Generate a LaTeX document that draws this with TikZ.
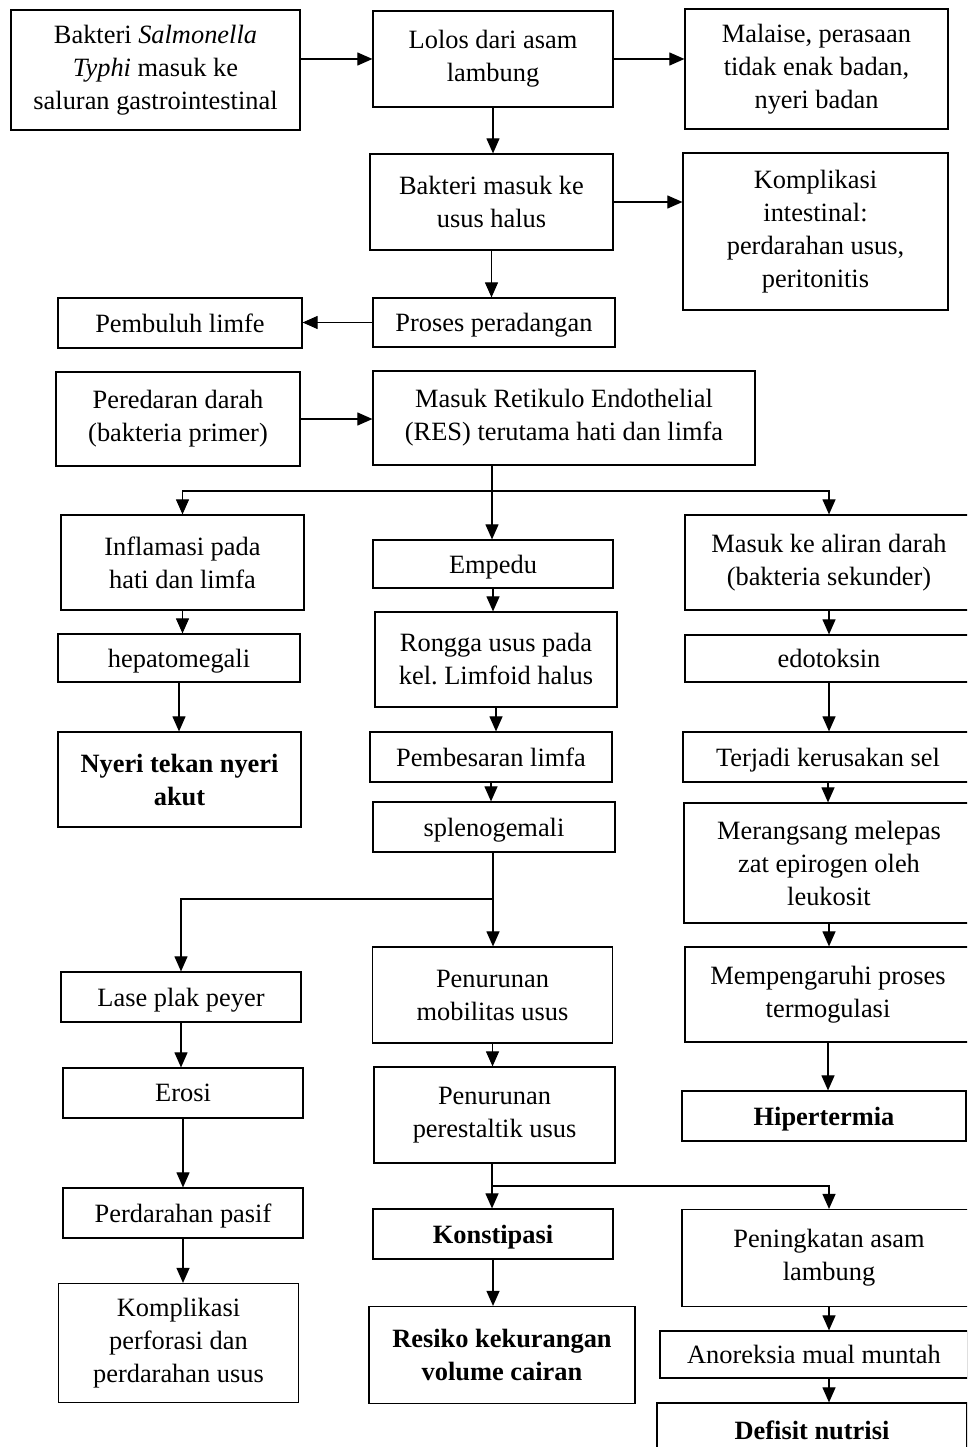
\documentclass[tikz,border=0pt]{standalone}
\usepackage{fontspec}
\setmainfont{Liberation Serif}
\usepackage{tikz}
\usetikzlibrary{arrows.meta,calc,positioning}
\frenchspacing

\begin{document}
\begin{tikzpicture}[
  x=1pt,y=-1pt,
  box/.style={draw,line width=1.2pt,inner sep=0pt,align=center,font=\fontsize{26.4}{33}\selectfont},
  one/.style={text depth=0pt},
  bold/.style={font=\fontsize{26.4}{33}\selectfont\bfseries},
  sz/.style 2 args={minimum width=#1pt,minimum height=#2pt},
  arrow/.style={-{Triangle[length=15pt,width=13pt]},line width=1.1pt}
]
\useasboundingbox (0,0) rectangle (967,1447);
\clip (0,0) rectangle (967,1447);
\node[box,sz={289}{120}] (bact) at (155.5,70) {Bakteri \textit{Salmonella}\\\textit{Typhi} masuk ke\\saluran gastrointestinal};
\node[box,sz={240}{96}] (lolos) at (493,59) {Lolos dari asam\\lambung};
\node[box,sz={263}{120}] (malaise) at (816.5,69) {Malaise, perasaan\\tidak enak badan,\\nyeri badan};
\node[box,sz={243}{96}] (masuk) at (491.5,202) {Bakteri masuk ke\\usus halus};
\node[box,sz={265}{157}] (kompint) at (815.5,231.5) {Komplikasi\\intestinal:\\perdarahan usus,\\peritonitis};
\node[box,one,sz={244}{50}] (limfe) at (180,323) {Pembuluh limfe};
\node[box,one,sz={242}{49}] (proses) at (494,322.5) {Proses peradangan};
\node[box,sz={244}{94}] (peredaran) at (178,419) {Peredaran darah\\(bakteria primer)};
\node[box,sz={382}{94}] (res) at (564,418) {Masuk Retikulo Endothelial\\(RES) terutama hati dan limfa};
\node[box,sz={243}{95}] (inflamasi) at (182.5,562.5) {Inflamasi pada\\hati dan limfa};
\node[box,one,sz={240}{48}] (empedu) at (493,564) {Empedu};
\node[box,sz={288}{95}] (aliran) at (829,562.5) {Masuk ke aliran darah\\(bakteria sekunder)};
\node[box,one,sz={242}{48}] (hepato) at (179,658) {hepatomegali};
\node[box,sz={242}{95}] (rongga) at (496,659.5) {Rongga usus pada\\kel. Limfoid halus};
\node[box,one,sz={288}{47}] (edotoksin) at (829,658.5) {edotoksin};
\node[box,bold,sz={243}{95}] (nyeri) at (179.5,779.5) {Nyeri tekan nyeri\\akut};
\node[box,one,sz={242}{50}] (pembesaran) at (491,757) {Pembesaran limfa};
\node[box,one,sz={290}{50}] (kerusakan) at (828,757) {Terjadi kerusakan sel};
\node[box,one,sz={242}{50}] (spleno) at (494,827) {splenogemali};
\node[box,sz={290}{120}] (merangsang) at (829,863) {Merangsang melepas\\zat epirogen oleh\\leukosit};
\node[box,one,sz={240}{50}] (lase) at (181,997) {Lase plak peyer};
\node[box,sz={240}{96}] (mobilitas) at (492.5,995) {Penurunan\\mobilitas usus};
\node[box,sz={286}{95}] (mempengaruhi) at (828,994.5) {Mempengaruhi proses\\termogulasi};
\node[box,one,sz={240}{50}] (erosi) at (183,1093) {Erosi};
\node[box,sz={241}{96}] (perestaltik) at (494.5,1115) {Penurunan\\perestaltik usus};
\node[box,one,bold,sz={284}{50}] (hipertermia) at (824,1116) {Hipertermia};
\node[box,one,sz={240}{50}] (perdarahan) at (183,1213) {Perdarahan pasif};
\node[box,one,bold,sz={240}{50}] (konstipasi) at (493,1234) {Konstipasi};
\node[box,sz={294}{97}] (peningkatan) at (829,1258) {Peningkatan asam\\lambung};
\node[box,sz={240}{119}] (perforasi) at (178.5,1343) {Komplikasi\\perforasi dan\\perdarahan usus};
\node[box,bold,sz={266}{97}] (resiko) at (502,1355) {Resiko kekurangan\\volume cairan};
\node[box,one,sz={308}{47}] (anoreksia) at (814,1354.5) {Anoreksia mual muntah};
\node[box,one,bold,sz={310}{54}] (defisit) at (812,1430) {Defisit nutrisi};
\coordinate (fork1) at (492,491);
\coordinate (fork2) at (493,899);
\coordinate (fork3) at (492,1186);
\draw[arrow] (bact.east |- lolos.west) -- (lolos.west);
\draw[arrow] (lolos.east) -- (lolos.east -| malaise.west);
\draw[arrow] (lolos.south) -- (lolos.south |- masuk.north);
\draw[arrow] (masuk.east) -- (masuk.east -| kompint.west);
\draw[arrow] (masuk.south) -- (masuk.south |- proses.north);
\draw[arrow] (proses.west) -- (proses.west -| limfe.east);
\draw[arrow] (peredaran.east) -- (peredaran.east -| res.west);
\draw[arrow] (fork1 |- res.south) -- (fork1 |- empedu.north);
\draw[arrow] (fork1) -| (inflamasi.north);
\draw[arrow] (fork1) -| (aliran.north);
\draw[arrow] (inflamasi.south) -- (inflamasi.south |- hepato.north);
\draw[arrow] (empedu.south) -- (empedu.south |- rongga.north);
\draw[arrow] (aliran.south) -- (aliran.south |- edotoksin.north);
\draw[arrow] (hepato.south) -- (hepato.south |- nyeri.north);
\draw[arrow] (rongga.south) -- (rongga.south |- pembesaran.north);
\draw[arrow] (edotoksin.south) -- (edotoksin.south |- kerusakan.north);
\draw[arrow] (pembesaran.south) -- (pembesaran.south |- spleno.north);
\draw[arrow] (kerusakan.south) -- (kerusakan.south |- merangsang.north);
\draw[arrow] (fork2 |- spleno.south) -- (fork2 |- mobilitas.north);
\draw[arrow] (fork2) -| (lase.north);
\draw[arrow] (merangsang.south) -- (merangsang.south |- mempengaruhi.north);
\draw[arrow] (mempengaruhi.south) -- (mempengaruhi.south |- hipertermia.north);
\draw[arrow] (lase.south) -- (lase.south |- erosi.north);
\draw[arrow] (mobilitas.south) -- (mobilitas.south |- perestaltik.north);
\draw[arrow] (erosi.south) -- (erosi.south |- perdarahan.north);
\draw[arrow] (fork3 |- perestaltik.south) -- (fork3 |- konstipasi.north);
\draw[arrow] (fork3) -| (peningkatan.north);
\draw[arrow] (perdarahan.south) -- (perdarahan.south |- perforasi.north);
\draw[arrow] (konstipasi.south) -- (konstipasi.south |- resiko.north);
\draw[arrow] (peningkatan.south) -- (peningkatan.south |- anoreksia.north);
\draw[arrow] (peningkatan.south |- anoreksia.south) -- (peningkatan.south |- defisit.north);
\end{tikzpicture}
\end{document}
